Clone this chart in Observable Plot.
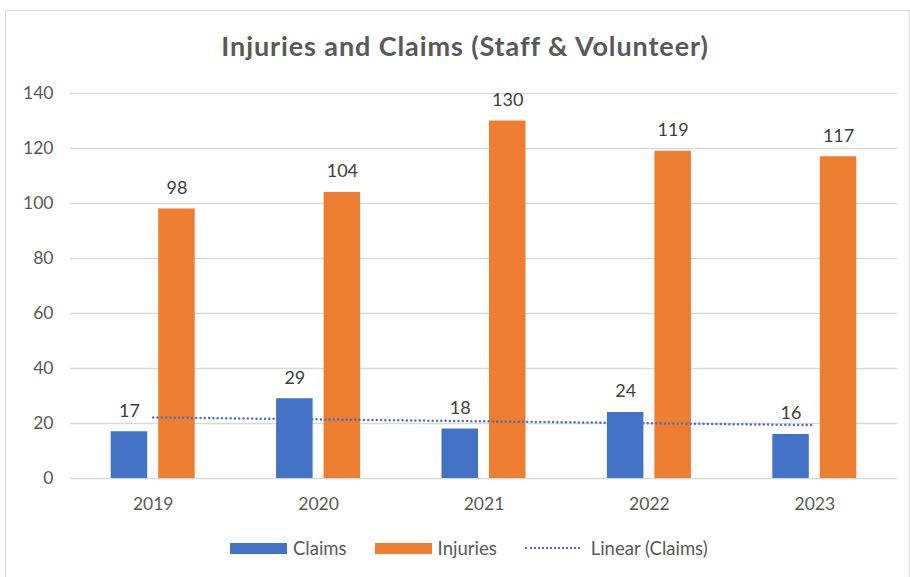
<!DOCTYPE html>
<html>
<head>
<meta charset="utf-8">
<script src="https://cdn.jsdelivr.net/npm/d3@7"></script>
<script src="https://cdn.jsdelivr.net/npm/@observablehq/plot@0.6"></script>
<style>
  html, body { margin: 0; padding: 0; background: #fff; }
  #wrap { position: relative; width: 910px; height: 577px; overflow: hidden; font-family: Lato, "Open Sans", sans-serif; }
  #frame { position: absolute; left: 5px; top: 10px; width: 905px; height: 580px; border: 1.5px solid #d9d9d9; box-sizing: border-box; }
  #title { position: absolute; left: 0; width: 930px; top: 29px; text-align: center; font-size: 27px; font-weight: bold; letter-spacing: 0.9px; color: #595959; }
  #chart { position: absolute; left: 0; top: 0; }
  #legend { position: absolute; top: 537px; left: 230px; display: flex; align-items: center; font-size: 18.5px; color: #595959; white-space: nowrap; }
  .sw { width: 57px; height: 11px; margin-right: 6px; }
  .item { display: flex; align-items: center; margin-right: 28px; }
  .dots { width: 55px; height: 0; border-top: 2.5px dotted #4472C4; margin-right: 11px; }
</style>
</head>
<body>
<div id="wrap">
  <div id="frame"></div>
  <div id="chart"></div>
  <div id="title">Injuries and Claims (Staff &amp; Volunteer)</div>
  <div id="legend"></div>
</div>
<script>
const years = [2019, 2020, 2021, 2022, 2023];
const claims = [17, 29, 18, 24, 16];
const injuries = [98, 104, 130, 119, 117];
const seriesNames = ["Claims", "Injuries"];
const seriesColors = ["#4472C4", "#ED7D31"];
const trendName = "Linear (Claims)";
const yTicks = [0, 20, 40, 60, 80, 100, 120, 140];

const claimsData = years.map((year, i) => ({year, value: claims[i]}));
const injuriesData = years.map((year, i) => ({year, value: injuries[i]}));

const W = 910, H = 577;
const mL = 70, mR = 13, mT = 93, mB = H - 478;
const band = (W - mL - mR) / years.length;
const barW = 36.5, gap = 11;
const outer = band / 2 - gap / 2 - barW; // inset on far side
const inner = band / 2 + gap / 2;       // inset on near side
const off = gap / 2 + barW / 2;

const chart = Plot.plot({
  width: W,
  height: H,
  marginLeft: mL,
  marginRight: mR,
  marginTop: mT,
  marginBottom: mB,
  style: {fontFamily: "Lato, 'Open Sans', sans-serif", fontSize: "17.5px", color: "#595959", background: "transparent"},
  x: {type: "linear", domain: [years[0] - 0.5, years[years.length - 1] + 0.5], ticks: years, tickFormat: d => String(d), tickSize: 0, tickPadding: 19, label: null},
  y: {domain: [0, 140], ticks: yTicks, tickSize: 0, tickPadding: 17, label: null},
  marks: [
    Plot.ruleY(yTicks, {stroke: "#d9d9d9", strokeWidth: 1.5}),
    Plot.rectY(claimsData, {x1: d => d.year - 0.5, x2: d => d.year + 0.5, y: "value", fill: seriesColors[0], insetLeft: outer, insetRight: inner}),
    Plot.rectY(injuriesData, {x1: d => d.year - 0.5, x2: d => d.year + 0.5, y: "value", fill: seriesColors[1], insetLeft: inner, insetRight: outer}),
    Plot.linearRegressionY(claimsData, {x: "year", y: "value", ci: 0, stroke: seriesColors[0], strokeWidth: 2.5, strokeDasharray: "0,4.3", strokeLinecap: "round"}),
    Plot.text(claimsData, {x: "year", y: "value", text: "value", dx: -off, dy: -21, fill: "#404040", fontSize: 18}),
    Plot.text(injuriesData, {x: "year", y: "value", text: "value", dx: off, dy: -21, fill: "#404040", fontSize: 18})
  ]
});
document.getElementById("chart").appendChild(chart);

const legend = document.getElementById("legend");
seriesNames.forEach((name, i) => {
  const item = document.createElement("div");
  item.className = "item";
  item.innerHTML = `<div class="sw" style="background:${seriesColors[i]}"></div><span>${name}</span>`;
  legend.appendChild(item);
});
const t = document.createElement("div");
t.className = "item";
t.innerHTML = `<div class="dots"></div><span>${trendName}</span>`;
legend.appendChild(t);
</script>
</body>
</html>
